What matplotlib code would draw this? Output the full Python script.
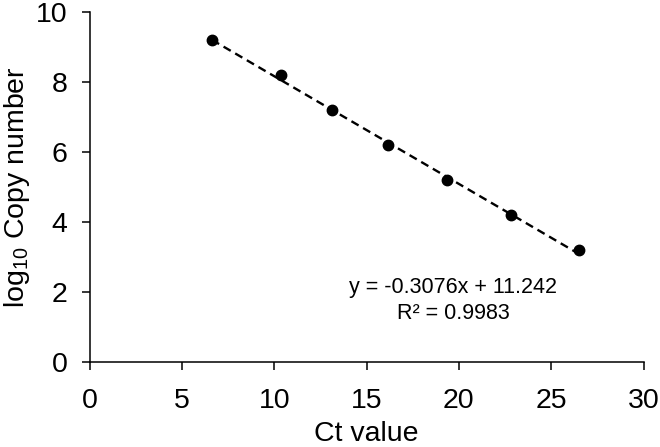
import numpy as np
import matplotlib
matplotlib.use("Agg")
import matplotlib.pyplot as plt

plt.rcParams['font.family'] = ['Liberation Sans', 'DejaVu Sans']
plt.rcParams['mathtext.default'] = 'regular'

ct_values = [6.62, 10.34, 13.1, 16.14, 19.36, 22.8, 26.53]
log_copies = [9.2, 8.2, 7.2, 6.2, 5.2, 4.2, 3.2]
slope = -0.3076
intercept = 11.242
eq_text = "y = -0.3076x + 11.242\nR² = 0.9983"
x_ticks = [0, 5, 10, 15, 20, 25, 30]
y_ticks = [0, 2, 4, 6, 8, 10]

fig = plt.figure(figsize=(6.6, 4.47), dpi=100)
ax = fig.add_axes([0.136, 0.19, 0.839, 0.783])

xs = np.array([min(ct_values), max(ct_values)])
ax.plot(xs, slope * xs + intercept, color='black', lw=1.7, dashes=(3.5, 2.2), zorder=2)
ax.plot(ct_values, log_copies, 'o', color='black', markersize=7.5, zorder=3)

ax.set_xlim(0, 30)
ax.set_ylim(0, 10)
ax.set_xticks(x_ticks)
ax.set_yticks(y_ticks)
for s in ['top', 'right']:
    ax.spines[s].set_visible(False)
for s in ['left', 'bottom']:
    ax.spines[s].set_linewidth(1.1)
ax.tick_params(direction='out', length=6, width=1.1, labelsize=20.5)
ax.tick_params(axis='y', pad=10)
ax.tick_params(axis='x', pad=13)

ax.set_xlabel('Ct value', fontsize=20.5, labelpad=5)
ax.set_ylabel('log$_{10}$ Copy number', fontsize=20.5, labelpad=3)

ax.text(19.7, 1.77, eq_text, ha='center', va='center', fontsize=15.5, linespacing=1.3)

fig.savefig('out.png', dpi=100)
